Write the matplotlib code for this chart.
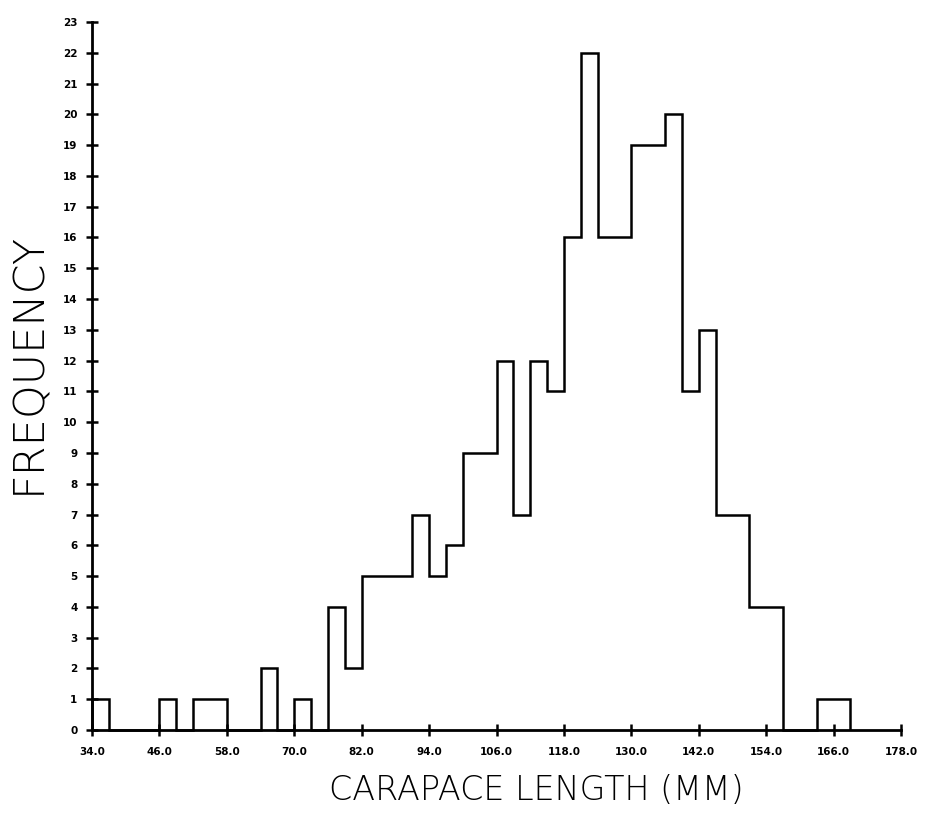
import numpy as np
import matplotlib.pyplot as plt

# Carapace length bins (3 mm wide, starting at 34 mm) and counts per bin
bin_start = 34.0
bin_width = 3.0
counts = [1, 0, 0, 0, 1, 0, 1, 1, 0, 0, 2, 0, 1, 0, 4, 2,
          5, 5, 5, 7, 5, 6, 9, 9, 12, 7, 12, 11, 16, 22, 16, 16,
          19, 19, 20, 11, 13, 7, 7, 4, 4, 0, 0, 1, 1]
xticks = np.arange(34.0, 178.1, 12.0)
yticks = np.arange(0, 24)

edges = bin_start + bin_width * np.arange(len(counts) + 1)

fig = plt.figure(figsize=(9.26, 8.15), dpi=100)
ax = fig.add_axes([0.0994, 0.1043, 0.8736, 0.8687])

ax.stairs(counts, edges, baseline=0, color='black', linewidth=1.8,
          clip_on=False)

ax.set_xlim(34, 178)
ax.set_ylim(0, 23)
for side in ['top', 'right']:
    ax.spines[side].set_visible(False)
for side in ['left', 'bottom']:
    ax.spines[side].set_linewidth(2.0)

ax.set_xticks(xticks)
ax.set_xticklabels(['%.1f' % t for t in xticks])
ax.set_yticks(yticks)
ax.set_yticklabels([str(t) for t in yticks])
ax.tick_params(axis='both', direction='inout', length=9, width=1.8,
               labelsize=7.5)
ax.tick_params(axis='x', pad=8)
ax.tick_params(axis='y', pad=6)
for lab in ax.get_xticklabels() + ax.get_yticklabels():
    lab.set_fontweight('bold')

ax.set_xlabel('CARAPACE LENGTH (MM)', fontsize=24, fontweight='light',
              va='center')
ax.xaxis.set_label_coords(0.549, -0.085)
ax.set_ylabel('FREQUENCY', fontsize=31, fontweight='light', va='center')
ax.yaxis.set_label_coords(-0.079, 0.518)

fig.savefig('out.png', dpi=100)
